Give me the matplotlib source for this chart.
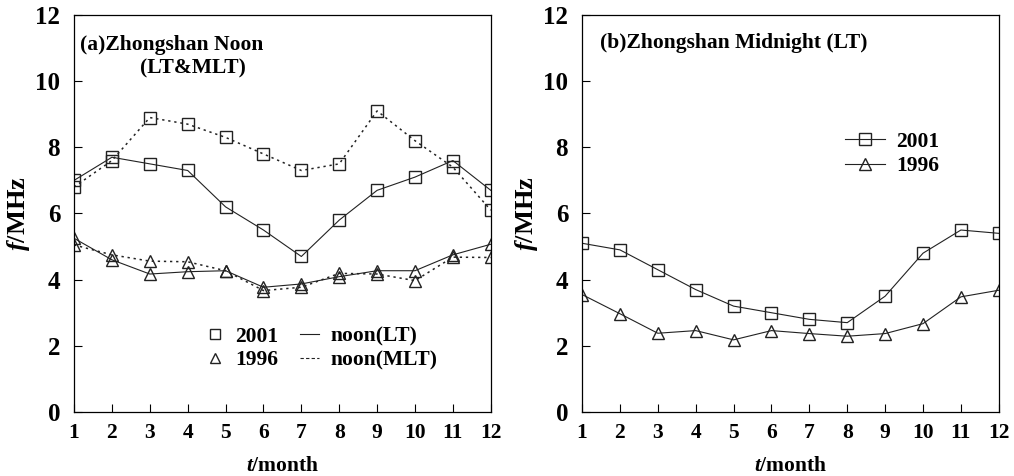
import matplotlib
matplotlib.use("Agg")
import matplotlib.pyplot as plt
from matplotlib.lines import Line2D

plt.rcParams['font.family'] = ['Liberation Serif', 'DejaVu Serif']
plt.rcParams['font.weight'] = 'bold'
plt.rcParams['mathtext.fontset'] = 'custom'
plt.rcParams['mathtext.rm'] = 'Liberation Serif:bold'
plt.rcParams['mathtext.it'] = 'Liberation Serif:italic:bold'

months = list(range(1, 13))

# (a) Zhongshan noon
noon_lt_2001 = [7.0, 7.7, 7.5, 7.3, 6.2, 5.5, 4.7, 5.8, 6.7, 7.1, 7.6, 6.7]
noon_mlt_2001 = [6.8, 7.6, 8.9, 8.7, 8.3, 7.8, 7.3, 7.5, 9.1, 8.2, 7.4, 6.1]
noon_lt_1996 = [5.25, 4.6, 4.17, 4.24, 4.27, 3.77, 3.87, 4.09, 4.27, 4.27, 4.75, 5.07]
noon_mlt_1996 = [5.05, 4.75, 4.56, 4.54, 4.27, 3.67, 3.77, 4.19, 4.17, 3.97, 4.68, 4.67]

# (b) Zhongshan midnight
mid_2001 = [5.1, 4.9, 4.3, 3.7, 3.2, 3.0, 2.8, 2.7, 3.5, 4.8, 5.5, 5.4]
mid_1996 = [3.55, 2.97, 2.38, 2.46, 2.18, 2.46, 2.37, 2.29, 2.37, 2.67, 3.48, 3.68]

fig = plt.figure(figsize=(10.14, 4.76), dpi=100)
ax1 = fig.add_axes([0.073, 0.1345, 0.411, 0.834])
ax2 = fig.add_axes([0.574, 0.1345, 0.411, 0.834])

mk = dict(markerfacecolor='none', markeredgecolor='#222222', markersize=9,
          markeredgewidth=1.0, color='#222222')
dotted = (0, (1.5, 2.5))
fs = 15.5

ax1.plot(months, noon_mlt_2001, marker='s', linestyle=dotted, lw=1.1, **mk)
ax1.plot(months, noon_lt_2001, marker='s', linestyle='-', lw=0.8, **mk)
ax1.plot(months, noon_mlt_1996, marker='^', linestyle=dotted, lw=1.1, **mk)
ax1.plot(months, noon_lt_1996, marker='^', linestyle='-', lw=0.8, **mk)

ax2.plot(months, mid_2001, marker='s', linestyle='-', lw=0.8, label='2001', **mk)
ax2.plot(months, mid_1996, marker='^', linestyle='-', lw=0.8, label='1996', **mk)

for ax in (ax1, ax2):
    ax.set_xlim(1, 12)
    ax.set_ylim(0, 12)
    ax.set_xticks(months)
    ax.set_yticks(range(0, 13, 2))
    ax.tick_params(direction='in', length=6, width=0.8,
                   top=False, right=False)
    ax.tick_params(axis='y', pad=10, labelsize=18)
    ax.tick_params(axis='x', pad=8, labelsize=fs)
    for lab in ax.get_xticklabels() + ax.get_yticklabels():
        lab.set_fontweight('bold')
    for s in ax.spines.values():
        s.set_linewidth(0.9)
    ax.set_ylabel(r'$\mathit{f}$/MHz', fontsize=19, fontweight='bold',
                  labelpad=2)
    ax.set_xlabel(r'$\mathit{t}$/month', fontsize=fs, fontweight='bold',
                  labelpad=9)

ax1.text(0.014, 0.924, '(a)Zhongshan Noon', transform=ax1.transAxes,
         fontsize=fs, fontweight='bold', va='center')
ax1.text(0.158, 0.865, '(LT&MLT)', transform=ax1.transAxes,
         fontsize=fs, fontweight='bold', va='center')
ax2.text(0.043, 0.93, '(b)Zhongshan Midnight (LT)', transform=ax2.transAxes,
         fontsize=fs, fontweight='bold', va='center')

# legend of panel (a): symbols for years, line styles for time
h = [Line2D([], [], marker='s', linestyle='none', **mk),
     Line2D([], [], marker='^', linestyle='none', **mk),
     Line2D([], [], linestyle='-', lw=0.8, color='#222222'),
     Line2D([], [], linestyle=(0, (3, 2)), lw=0.8, color='#222222')]
leg1 = ax1.legend(h, ['2001', '1996', 'noon(LT)', 'noon(MLT)'], ncol=2,
                  loc='center left', bbox_to_anchor=(0.315, 0.16),
                  frameon=False, fontsize=fs, handlelength=0.9,
                  handletextpad=0.5, columnspacing=1.0, labelspacing=0.15,
                  markerscale=0.85, borderpad=0, borderaxespad=0)
for t in leg1.get_texts():
    t.set_fontweight('bold')

leg2 = ax2.legend(loc='center left', bbox_to_anchor=(0.63, 0.65),
                  frameon=False, fontsize=fs, handlelength=1.9,
                  handletextpad=0.5, labelspacing=0.2,
                  borderpad=0, borderaxespad=0)
for t in leg2.get_texts():
    t.set_fontweight('bold')

fig.savefig('out.png', dpi=100)
